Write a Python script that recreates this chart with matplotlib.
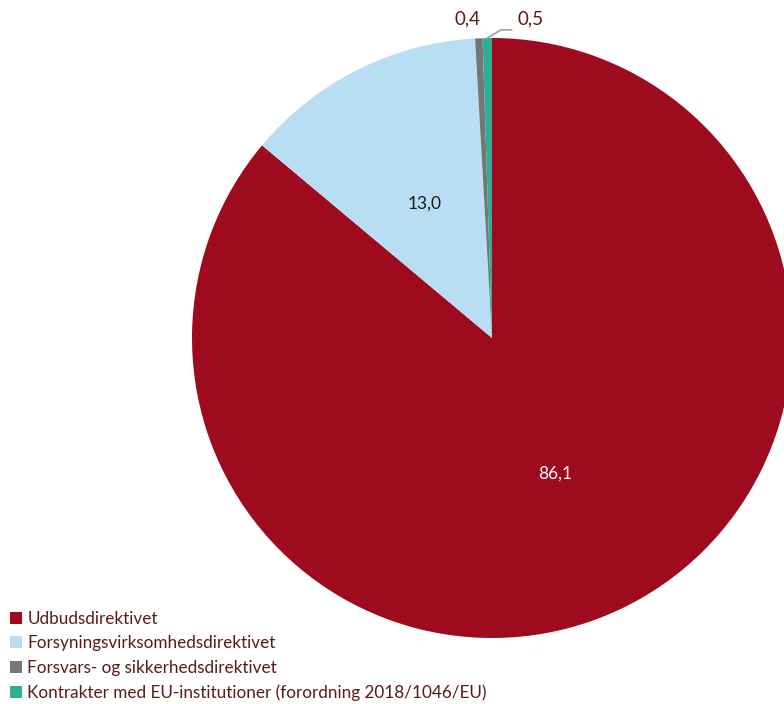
import numpy as np
import matplotlib.pyplot as plt
from matplotlib.patches import Patch

plt.rcParams['font.family'] = ['Lato', 'DejaVu Sans']

categories = ['Udbudsdirektivet',
              'Forsyningsvirksomhedsdirektivet',
              'Forsvars- og sikkerhedsdirektivet',
              'Kontrakter med EU-institutioner (forordning 2018/1046/EU)']
values = [86.1, 13.0, 0.4, 0.5]
labels = ['86,1', '13,0', '0,4', '0,5']
colors = ['#9E0B1E', '#B9DDF3', '#767676', '#2FAE94']
text_col = '#5A1A1A'

fig = plt.figure(figsize=(7.84, 7.04), dpi=100)
# axes sized so the pie centre sits at (492, 338) px with radius 300 px
ax = fig.add_axes([192 / 784, 66 / 704, 600 / 784, 600 / 704])
wedges, _ = ax.pie(values, colors=colors, startangle=90, counterclock=False,
                   radius=1, wedgeprops=dict(linewidth=0))
ax.set_xlim(-1, 1)
ax.set_ylim(-1, 1)
ax.set_aspect('equal')
ax.axis('off')

for i, w in enumerate(wedges):
    mid = np.deg2rad((w.theta1 + w.theta2) / 2)
    if values[i] > 5:
        c = 'white' if i == 0 else '#1a1a1a'
        ax.text(0.5 * np.cos(mid), 0.5 * np.sin(mid), labels[i], ha='center',
                va='center', fontsize=12.5, color=c)
    elif i == 2:
        ax.text(-0.08, 1.063, labels[i], ha='center', va='center',
                fontsize=13.5, color=text_col)
    else:
        x0, y0 = np.cos(mid), np.sin(mid)
        ax.plot([x0, 0.03, 0.065], [y0, 1.027, 1.027], color='#A6A6A6', lw=1.3,
                clip_on=False)
        ax.text(0.085, 1.063, labels[i], ha='left', va='center',
                fontsize=13.5, color=text_col)

handles = [Patch(facecolor=c, edgecolor='none') for c in colors]
leg = fig.legend(handles, categories, loc='lower left', bbox_to_anchor=(0.0, -0.01),
                 frameon=False, fontsize=12.3, handlelength=0.7, handleheight=0.7,
                 handletextpad=0.3, labelspacing=0.5, borderaxespad=0.2)
for t in leg.get_texts():
    t.set_color(text_col)

fig.savefig('out.png', dpi=100)
